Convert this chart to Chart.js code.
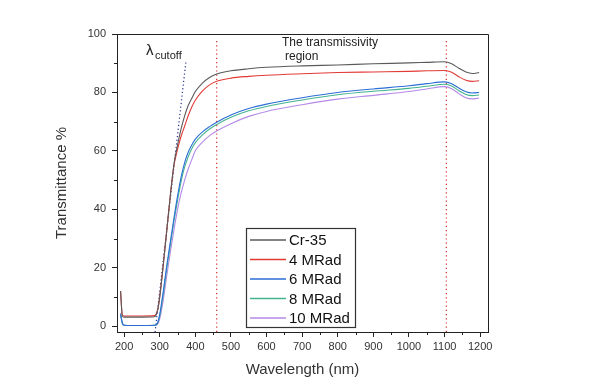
<!DOCTYPE html>
<html>
<head>
<meta charset="utf-8">
<script src="https://cdn.jsdelivr.net/npm/chart.js@4.4.1/dist/chart.umd.min.js"></script>
<style>
  html, body { margin: 0; padding: 0; background: #fff; }
  #wrap { width: 604px; height: 392px; }
</style>
</head>
<body>
<div id="wrap"><canvas id="grafico"></canvas></div>
<script>
// Comprimentos de onda (nm)
const comprimentos = [190, 195, 200, 250, 285, 290, 295, 300, 310, 320, 330, 340, 350, 360, 370, 380, 390, 400, 420, 440, 460, 500, 550, 600, 700, 800, 900, 1000, 1050, 1100, 1120, 1140, 1160, 1178, 1197];

// Transmitância (%) de cada amostra
const cr35 = [12, 3.4, 3.1, 3.1, 3.2, 3.9, 6, 10, 21, 33, 45, 55.5, 62, 67.5, 72, 75.5, 78, 80.3, 83.2, 85.1, 86.3, 87.4, 88.1, 88.6, 89.1, 89.4, 89.8, 90.1, 90.3, 90.5, 89.8, 88.3, 87, 86.5, 86.8];
const mrad4 = [12, 3.8, 3.5, 3.5, 3.6, 4.2, 6, 10, 21, 33, 45, 55, 60.5, 65, 68.5, 72, 75, 77.3, 80.5, 82.6, 83.8, 84.9, 85.5, 85.9, 86.4, 86.8, 87, 87.2, 87.4, 87.5, 86.9, 85.4, 84.2, 83.8, 84];
const mrad6 = [4, 1, 0.3, 0.2, 0.3, 0.5, 1.5, 4, 12, 21, 29, 37, 44.5, 51, 56, 59.5, 62, 64, 66.5, 68.3, 69.8, 72.3, 74.5, 76, 78.2, 80, 81.2, 82.3, 83, 83.6, 83, 81.5, 80.2, 79.8, 80];
const mrad8 = [4, 1, 0.3, 0.2, 0.3, 0.4, 1.2, 3.5, 11, 20, 28, 36, 43, 49.5, 54.5, 58, 60.7, 62.8, 65.5, 67.5, 69, 71.5, 73.7, 75.2, 77.4, 79.2, 80.4, 81.4, 82.1, 82.8, 82.2, 80.6, 79.3, 78.9, 79.1];
const mrad10 = [4.5, 1.2, 0.3, 0.2, 0.3, 0.3, 0.8, 2.5, 9, 17.5, 25.5, 33, 40, 45.5, 50, 53.8, 57, 60, 63, 65.2, 66.8, 69.3, 71.8, 73.5, 75.8, 77.7, 79, 80.3, 81.2, 82, 81.3, 79.6, 78.2, 77.8, 78.1];

const nomes = ['Cr-35', '4 MRad', '6 MRad', '8 MRad', '10 MRad'];
const cores = ['#5a5a5a', '#e23b36', '#2d6ed6', '#45b48e', '#b48ae6'];

// Linhas de referência
const limitesRegiao = [460, 1105];       // região de transmissividade (nm)
const corteX = [287, 374];               // reta do λ de corte
const corteY = [-2, 91];

function pontos(ys) {
  return comprimentos.map((x, i) => ({ x, y: ys[i] }));
}

const series = [cr35, mrad4, mrad6, mrad8, mrad10];
const datasets = series.map((s, i) => ({
  label: nomes[i],
  data: pontos(s),
  borderColor: cores[i],
  borderWidth: 1.1,
  pointRadius: 0,
  fill: false,
  cubicInterpolationMode: 'monotone'
}));

limitesRegiao.forEach(x => {
  datasets.push({
    label: '',
    data: [{ x, y: -2 }, { x, y: 98 }],
    borderColor: '#d42a2a',
    borderWidth: 1.2,
    borderDash: [1.2, 3],
    pointRadius: 0,
    fill: false
  });
});
datasets.push({
  label: '',
  data: [{ x: corteX[0], y: corteY[0] }, { x: corteX[1], y: corteY[1] }],
  borderColor: '#26308f',
  borderWidth: 1.2,
  borderDash: [1.2, 2.5],
  pointRadius: 0,
  fill: false
});

// Ticks menores, moldura, legenda e textos
const extras = {
  id: 'extras',
  afterDraw(chart) {
    const ctx = chart.ctx;
    const a = chart.chartArea;
    const sx = chart.scales.x, sy = chart.scales.y;
    ctx.save();
    ctx.strokeStyle = '#222';
    ctx.lineWidth = 1;
    // moldura superior e direita
    ctx.beginPath();
    ctx.moveTo(a.left, a.top + 0.5);
    ctx.lineTo(a.right + 0.5, a.top + 0.5);
    ctx.lineTo(a.right + 0.5, a.bottom);
    ctx.stroke();
    // ticks menores
    ctx.beginPath();
    for (let v = 250; v <= 1150; v += 100) {
      const px = Math.round(sx.getPixelForValue(v)) + 0.5;
      ctx.moveTo(px, a.bottom);
      ctx.lineTo(px, a.bottom + 3);
    }
    for (let v = 10; v <= 90; v += 20) {
      const py = Math.round(sy.getPixelForValue(v)) + 0.5;
      ctx.moveTo(a.left, py);
      ctx.lineTo(a.left - 3, py);
    }
    ctx.stroke();

    // legenda
    const bx = 246, by = 228, bw = 109, bh = 99;
    ctx.fillStyle = '#fff';
    ctx.fillRect(bx, by, bw, bh);
    ctx.strokeStyle = '#333';
    ctx.lineWidth = 1.2;
    ctx.strokeRect(bx + 0.5, by + 0.5, bw, bh);
    ctx.font = '15px "Liberation Sans", Arial, sans-serif';
    ctx.textBaseline = 'middle';
    ctx.textAlign = 'left';
    nomes.forEach((n, i) => {
      const y = by + 12 + i * 19.5;
      ctx.strokeStyle = cores[i];
      ctx.lineWidth = 1.5;
      ctx.beginPath();
      ctx.moveTo(bx + 4, y);
      ctx.lineTo(bx + 40, y);
      ctx.stroke();
      ctx.fillStyle = '#111';
      ctx.fillText(n, bx + 43, y + 1);
    });

    // anotações
    ctx.fillStyle = '#222';
    ctx.textBaseline = 'alphabetic';
    ctx.font = '15px "Liberation Sans", Arial, sans-serif';
    ctx.fillText('λ', 146, 55);
    ctx.font = '11px "Liberation Sans", Arial, sans-serif';
    ctx.fillText('cutoff', 155, 59);
    ctx.font = '12px "Liberation Sans", Arial, sans-serif';
    ctx.fillText('The transmissivity', 282, 46);
    ctx.fillText('region', 285, 60);
    ctx.restore();
  }
};

const fonte = '"Liberation Sans", Arial, sans-serif';

new Chart(document.getElementById('grafico'), {
  type: 'line',
  data: { datasets },
  options: {
    responsive: true,
    maintainAspectRatio: false,
    animation: false,
    layout: { padding: { left: 48, top: 34, right: 116, bottom: 0 } },
    plugins: {
      legend: { display: false },
      tooltip: { enabled: false }
    },
    scales: {
      x: {
        type: 'linear',
        min: 180,
        max: 1222,
        afterFit(scale) { scale.height = 60; },
        ticks: {
          stepSize: 100,
          includeBounds: false,
          autoSkip: false,
          maxRotation: 0,
          padding: 3,
          color: '#333',
          font: { family: fonte, size: 11 },
          callback: v => String(v)
        },
        grid: { drawOnChartArea: false, drawTicks: true, tickLength: 5, tickColor: '#222' },
        border: { display: true, color: '#222', width: 1 },
        title: {
          display: true,
          text: 'Wavelength (nm)',
          color: '#333',
          padding: { top: 0, bottom: 13 },
          font: { family: fonte, size: 15 }
        }
      },
      y: {
        min: -2,
        max: 100,
        afterFit(scale) { scale.width = 69; },
        ticks: {
          stepSize: 20,
          includeBounds: false,
          padding: 6,
          color: '#333',
          font: { family: fonte, size: 11 },
          callback: v => String(v)
        },
        grid: { drawOnChartArea: false, drawTicks: true, tickLength: 5, tickColor: '#222' },
        border: { display: true, color: '#222', width: 1 },
        title: {
          display: true,
          text: 'Transmittance %',
          color: '#333',
          padding: { top: 5, bottom: 0 },
          font: { family: fonte, size: 15 }
        }
      }
    }
  },
  plugins: [extras]
});
</script>
</body>
</html>
